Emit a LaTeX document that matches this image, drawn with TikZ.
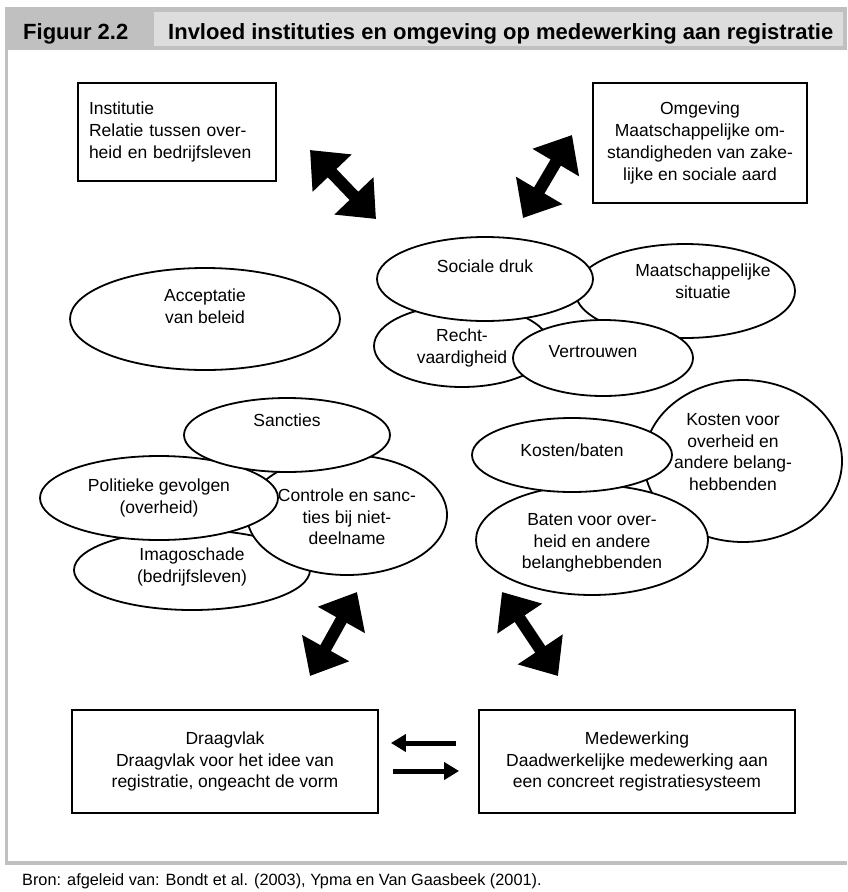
\documentclass[tikz,border=0pt]{standalone}
\usepackage{fontspec}
\setmainfont{Liberation Sans}
\usetikzlibrary{arrows.meta,shapes.geometric}
\definecolor{framegray}{RGB}{192,192,192}
\definecolor{titlegray}{RGB}{221,221,221}

\begin{document}
\begin{tikzpicture}[x=1pt, y=-1pt,
    txt/.style={font=\fontsize{17.5}{21.7}\selectfont, align=center},
    kader/.style={draw, line width=1.8pt, txt, inner xsep=11pt},
    bel/.style={draw, ellipse, fill=white, line width=1.8pt, inner sep=0pt},
    pijl/.style={line width=12pt, {Triangle[width=52pt,length=32pt]}-{Triangle[width=52pt,length=32pt]}},
    pijltje/.style={line width=5pt, -{Triangle[width=17pt,length=15pt]}}]

    \useasboundingbox (0,0) rectangle (847,892);

    % kop en kader
    \fill[framegray] (5,7) rectangle (847,50);
    \fill[titlegray] (154,12) rectangle (843,46);
    \fill[framegray] (5,50) rectangle (8,865);
    \fill[framegray] (5,861) rectangle (847,865);
    \node[anchor=base west, inner sep=0pt, font=\fontsize{22}{26}\selectfont\bfseries] (fig) at (23,39) {Figuur 2.2};
    \node[anchor=base west, inner sep=0pt, font=\fontsize{22}{26}\selectfont\bfseries] (titel) at (168,39) {Invloed instituties en omgeving op medewerking aan registratie};
    \node[anchor=base west, inner sep=0pt, font=\fontsize{16.3}{20}\selectfont] (bron) at (22,885) {Bron: afgeleid van: Bondt et al. (2003), Ypma en Van Gaasbeek (2001).};

    % rechthoeken
    \node[kader, align=left, text width=176pt, minimum height=98pt] (inst) at (177,132) {Institutie\\Relatie tussen over-\\heid en bedrijfsleven};
    \node[kader, minimum width=214pt, minimum height=120pt] (omg) at (700,143) {Omgeving\\Maatschappelijke om-\\standigheden van zake-\\lijke en sociale aard};
    \node[kader, minimum width=306pt, minimum height=103pt] (drg) at (225,761.5) {Draagvlak\\Draagvlak voor het idee van\\registratie, ongeacht de vorm};
    \node[kader, minimum width=316pt, minimum height=103pt] (mdw) at (637,761.5) {Medewerking\\Daadwerkelijke medewerking aan\\een concreet registratiesysteem};

    % ellipsen
    \node[bel, minimum width=270pt, minimum height=102pt, label={[txt, yshift=13pt]center:Acceptatie\\van beleid}] (acc) at (205,319) {};
    \node[bel, minimum width=220pt, minimum height=94pt, label={[txt, xshift=18pt, yshift=10pt]center:Maatschappelijke\\situatie}] (maat) at (685,291) {};
    \node[bel, minimum width=176pt, minimum height=82pt, label={[txt, yshift=-2pt]center:Recht-\\vaardigheid}] (recht) at (462,346) {};
    \node[bel, minimum width=216pt, minimum height=84pt, label={[txt, yshift=13pt]center:Sociale druk}] (soc) at (485,279) {};
    \node[bel, minimum width=180pt, minimum height=76pt, label={[txt, xshift=-10pt, yshift=6pt]center:Vertrouwen}] (vert) at (603,358) {};

    \node[bel, minimum width=236pt, minimum height=80pt, label={[txt, yshift=3pt]center:Imagoschade\\(bedrijfsleven)}] (imago) at (192,570) {};
    \node[bel, minimum width=200pt, minimum height=120pt, label={[txt, yshift=-2pt]center:Controle en sanc-\\ties bij niet-\\deelname}] (ctrl) at (347,515) {};
    \node[bel, minimum width=238pt, minimum height=84pt, label={[txt]center:Politieke gevolgen\\(overheid)}] (pol) at (159,498) {};
    \node[bel, minimum width=206pt, minimum height=74pt, label={[txt, yshift=15pt]center:Sancties}] (sanc) at (287,435) {};

    \node[bel, minimum width=198pt, minimum height=162pt, label={[txt, xshift=-10pt, yshift=9pt]center:Kosten voor\\overheid en\\andere belang-\\hebbenden}] (kov) at (743,461) {};
    \node[bel, minimum width=232pt, minimum height=110pt, label={[txt, yshift=-3pt]center:Baten voor over-\\heid en andere\\belanghebbenden}] (bat) at (592,540) {};
    \node[bel, minimum width=200pt, minimum height=74pt, label={[txt, yshift=5pt]center:Kosten/baten}] (kb) at (572,455) {};

    % dikke pijlen
    \coordinate (p1a) at (310,150);
    \coordinate (p1b) at (376,219);
    \coordinate (p2a) at (572,135);
    \coordinate (p2b) at (523,218);
    \coordinate (p3a) at (357,592);
    \coordinate (p3b) at (310,676);
    \coordinate (p4a) at (502,592);
    \coordinate (p4b) at (558,676);
    \draw[pijl] (p1a) -- (p1b);
    \draw[pijl] (p2a) -- (p2b);
    \draw[pijl] (p3a) -- (p3b);
    \draw[pijl] (p4a) -- (p4b);

    % draagvlak <-> medewerking
    \draw[pijltje, shorten <=22pt, shorten >=12pt] ([yshift=18.5pt]mdw.west) -- ([yshift=18.5pt]drg.east);
    \draw[pijltje, shorten <=14pt, shorten >=19pt] ([yshift=-9.5pt]drg.east) -- ([yshift=-9.5pt]mdw.west);
\end{tikzpicture}
\end{document}
